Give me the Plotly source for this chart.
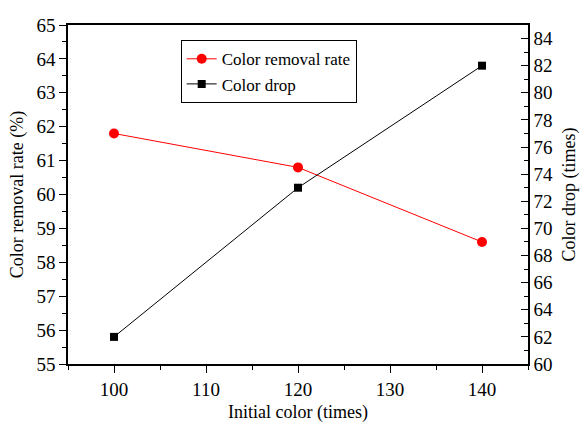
import plotly.graph_objects as go

# Initial color (dilution times)
initial_color = [100, 120, 140]
# Color removal rate (%), left axis
removal_rate = [61.8, 60.8, 58.6]
# Color drop (times), right axis
color_drop = [62, 73, 82]

FONT = "Times New Roman, Liberation Serif, DejaVu Serif, serif"

fig = go.Figure()
fig.add_trace(go.Scatter(
    x=initial_color, y=removal_rate, name="Color removal rate",
    mode="lines+markers",
    line=dict(color="#ff0000", width=1),
    marker=dict(symbol="circle", size=10, color="#ff0000"),
    yaxis="y",
))
fig.add_trace(go.Scatter(
    x=initial_color, y=color_drop, name="Color drop",
    mode="lines+markers",
    line=dict(color="#000000", width=1),
    marker=dict(symbol="square", size=8, color="#000000"),
    yaxis="y2",
))

axis_common = dict(
    showgrid=False, zeroline=False, showline=True, automargin=False,
    linecolor="black", linewidth=1.5,
    tickcolor="black", tickwidth=1.2, ticklen=7,
    tickfont=dict(family=FONT, size=19, color="black"),
)

fig.update_layout(
    width=580, height=423,
    margin=dict(l=68, r=52, t=25, b=59),
    paper_bgcolor="white", plot_bgcolor="white",
    font=dict(family=FONT, size=18, color="black"),
    showlegend=True,
    legend=dict(
        x=0.245, y=0.955, xanchor="left", yanchor="top",
        bgcolor="white", bordercolor="black", borderwidth=1,
        font=dict(family=FONT, size=17, color="black"),
        tracegroupgap=0, itemsizing="trace",
    ),
    xaxis=dict(
        **axis_common,
        range=[95, 145], tickmode="linear", tick0=100, dtick=10,
        ticks="outside", mirror=True,
        minor=dict(dtick=5, tick0=95, ticks="outside", ticklen=4, tickcolor="black"),
        title=dict(text="Initial color (times)", font=dict(family=FONT, size=18), standoff=12),
    ),
    yaxis=dict(
        **axis_common,
        range=[55, 65], tickmode="linear", tick0=55, dtick=1,
        ticks="outside",
        minor=dict(dtick=0.5, ticks="outside", ticklen=4, tickcolor="black"),
        title=dict(text="Color removal rate (%)", font=dict(family=FONT, size=18), standoff=8),
    ),
    yaxis2=dict(
        **axis_common,
        overlaying="y", side="right",
        range=[60, 85], tickmode="linear", tick0=60, dtick=2,
        ticks="inside",
        minor=dict(dtick=1, ticks="inside", ticklen=4, tickcolor="black"),
        title=dict(text="Color drop (times)", font=dict(family=FONT, size=18), standoff=10),
    ),
)

fig.write_html("out.html")
